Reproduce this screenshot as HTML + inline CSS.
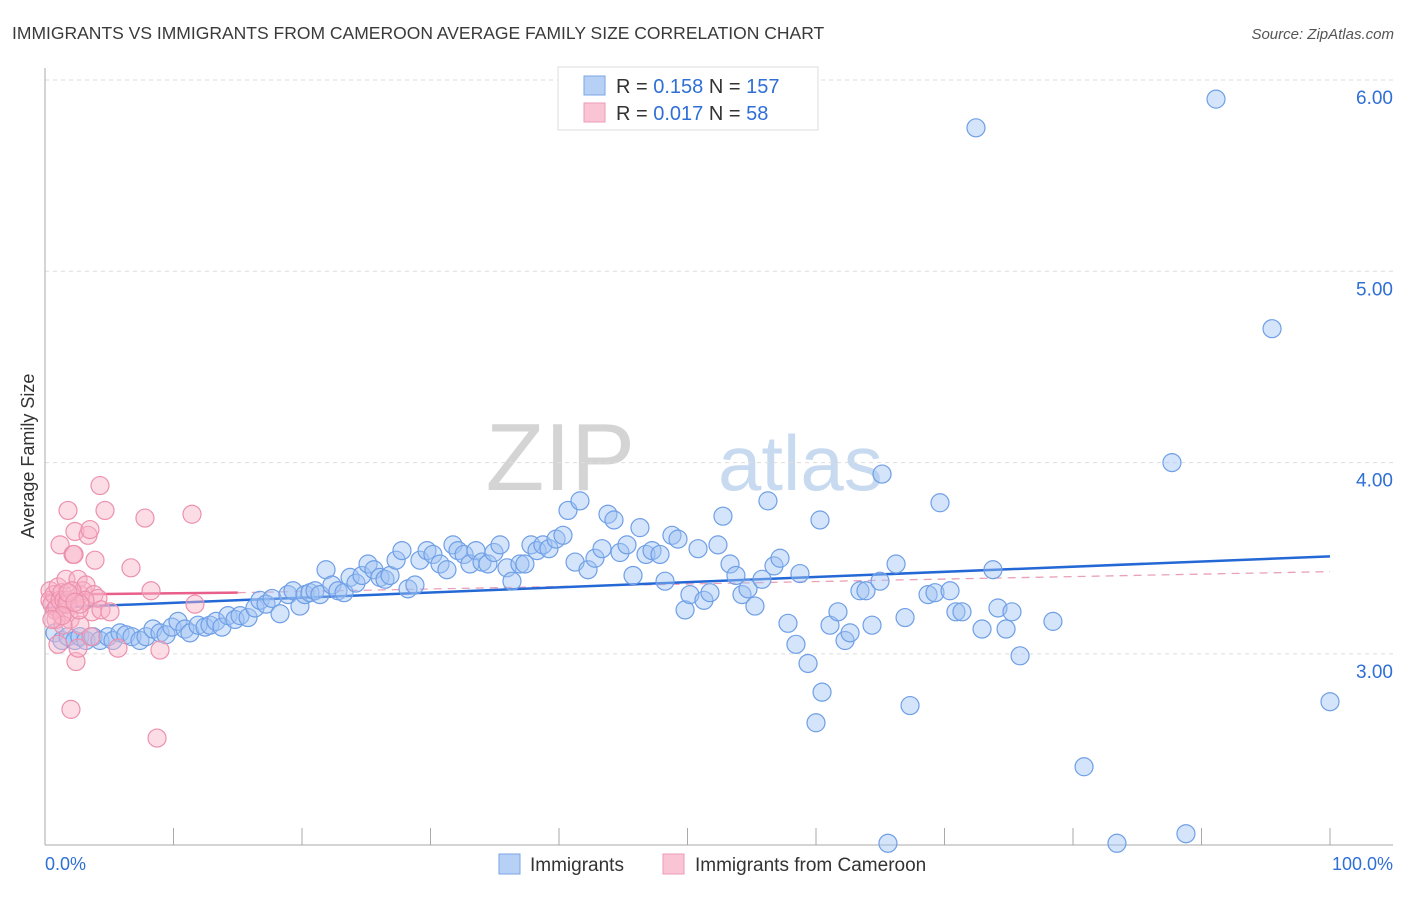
<!DOCTYPE html>
<html><head><meta charset="utf-8"><style>
body{margin:0;background:#fff;font-family:"Liberation Sans",sans-serif;}
svg text{font-family:"Liberation Sans",sans-serif;}
</style></head><body>
<svg id="chart" width="1406" height="892" xmlns="http://www.w3.org/2000/svg">
<text x="12" y="39" font-size="17.5" fill="#3a3a3a">IMMIGRANTS VS IMMIGRANTS FROM CAMEROON AVERAGE FAMILY SIZE CORRELATION CHART</text>
<text x="1394" y="39" font-size="15" fill="#555" text-anchor="end" font-style="italic">Source: ZipAtlas.com</text>
<g>
<text x="635" y="490" font-size="96" fill="#d4d4d4" text-anchor="end" font-family="Liberation Serif, serif">ZIP</text>
<text x="718" y="490" font-size="78" fill="#c8daf0">atlas</text>
</g>
<g id="grid"></g>
<g id="axes"></g>
<g id="trend"></g>
<g id="pts"></g>
<text transform="translate(34,456) rotate(-90)" font-size="18" fill="#333" text-anchor="middle">Average Family Size</text>
<g>
<rect x="558" y="67" width="260" height="63" fill="#fff" stroke="#ddd"/>
<rect x="584" y="76" width="21" height="19" fill="#b7d0f5" stroke="#7ba6e6"/>
<rect x="584" y="103" width="21" height="19" fill="#f9c5d5" stroke="#ee9ab4"/>
<text x="616" y="93" font-size="20" fill="#333">R = <tspan fill="#2f6fd6">0.158</tspan>   N = <tspan fill="#2f6fd6">157</tspan></text>
<text x="616" y="120" font-size="20" fill="#333">R = <tspan fill="#2f6fd6">0.017</tspan>   N = <tspan fill="#2f6fd6"> 58</tspan></text>
</g>
<g>
<rect x="499" y="854" width="21" height="20" fill="#b7d0f5" stroke="#7ba6e6"/>
<text x="530" y="871" font-size="19" fill="#333">Immigrants</text>
<rect x="663" y="854" width="21" height="20" fill="#f9c5d5" stroke="#ee9ab4"/>
<text x="695" y="871" font-size="19" fill="#333">Immigrants from Cameroon</text>
</g>
<text x="45" y="870" font-size="18" fill="#2f6fd6">0.0%</text>
<text x="1393" y="870" font-size="18" fill="#2f6fd6" text-anchor="end">100.0%</text>
</svg>
<script>
const yTicks=[3,4,5,6];
const yTickLabels=["3.00","4.00","5.00","6.00"];
const xTicks=[0,10,20,30,40,50,60,70,80,90,100];
const blueX=[0.78,1.32,1.79,2.33,2.72,3.19,3.74,4.28,4.9,5.29,5.84,6.3,6.77,7.39,7.86,8.4,8.95,9.42,9.88,10.35,10.89,11.28,11.91,12.45,12.84,13.31,13.77,14.24,14.79,15.18,15.8,16.34,16.73,17.2,17.67,18.29,18.91,19.3,19.84,20.23,20.62,21.01,21.4,21.87,22.33,22.8,23.27,23.74,24.2,24.67,25.14,25.6,26.07,26.46,26.85,27.32,27.78,28.25,28.79,29.18,29.73,30.19,30.74,31.28,31.75,32.14,32.61,33.07,33.54,34.01,34.47,34.94,35.41,35.95,36.34,36.96,37.35,37.82,38.29,38.75,39.22,39.77,40.31,40.7,41.25,41.63,42.26,42.8,43.35,43.81,44.28,44.75,45.29,45.76,46.3,46.77,47.24,47.86,48.25,48.79,49.26,49.81,50.19,50.82,51.28,51.75,52.37,52.76,53.31,53.77,54.24,54.71,55.25,55.8,56.26,56.73,57.2,57.82,58.44,58.75,59.38,60,60.47,60.31,61.09,61.71,62.26,62.65,63.42,63.89,64.36,64.98,65.14,66.23,66.93,67.32,68.72,69.26,69.65,70.43,70.89,71.36,72.45,72.92,73.77,74.16,74.79,75.25,75.88,78.44,80.86,87.7,91.13,95.49,100,65.6,83.42,88.79];
const blueY=[3.11,3.07,3.09,3.07,3.09,3.07,3.09,3.07,3.09,3.07,3.11,3.1,3.09,3.07,3.09,3.13,3.11,3.1,3.14,3.17,3.13,3.11,3.15,3.14,3.15,3.17,3.14,3.2,3.18,3.2,3.19,3.24,3.28,3.26,3.29,3.21,3.31,3.33,3.25,3.31,3.32,3.33,3.31,3.44,3.36,3.33,3.32,3.4,3.37,3.41,3.47,3.44,3.4,3.39,3.41,3.49,3.54,3.34,3.36,3.49,3.54,3.52,3.47,3.44,3.57,3.54,3.52,3.47,3.54,3.48,3.47,3.53,3.57,3.45,3.38,3.47,3.47,3.57,3.54,3.57,3.55,3.6,3.62,3.75,3.48,3.8,3.44,3.5,3.55,3.73,3.7,3.53,3.57,3.41,3.66,3.52,3.54,3.52,3.38,3.62,3.6,3.23,3.31,3.55,3.28,3.32,3.57,3.72,3.47,3.41,3.31,3.34,3.25,3.39,3.8,3.46,3.5,3.16,3.05,3.42,2.95,2.64,2.8,3.7,3.15,3.22,3.07,3.11,3.33,3.33,3.15,3.38,3.94,3.47,3.19,2.73,3.31,3.32,3.79,3.33,3.22,3.22,5.75,3.13,3.44,3.24,3.13,3.22,2.99,3.17,2.41,4.0,5.9,4.7,2.75,2.01,2.01,2.06];
const pinkX=[0.39,0.39,0.54,0.7,0.78,0.93,1.01,1.17,1.17,1.32,1.48,1.56,1.63,1.79,1.79,1.95,2.02,2.18,2.26,2.33,2.41,2.57,2.57,2.72,2.72,2.96,3.19,3.35,3.5,3.66,3.81,3.89,4.12,4.28,4.36,4.67,5.06,5.68,6.69,7.78,8.25,8.72,8.95,11.44,11.67,0.86,1.4,1.71,2.1,2.65,3.11,1.01,3.58,2.72,1.32,0.54,1.79,2.33];
const pinkY=[3.33,3.28,3.26,3.31,3.23,3.24,3.35,3.57,3.28,3.32,3.28,3.22,3.39,3.28,3.75,3.18,2.71,3.52,3.52,3.64,2.96,3.03,3.39,3.31,3.15,3.33,3.36,3.62,3.65,3.22,3.31,3.49,3.29,3.88,3.23,3.75,3.22,3.03,3.45,3.71,3.33,2.56,3.02,3.73,3.26,3.18,3.15,3.26,3.33,3.23,3.28,3.05,3.09,3.26,3.2,3.18,3.32,3.27];
const blueTrendX=[0,100];
const blueTrendY=[3.24,3.51];
const pinkTrendX=[0,15];
const pinkTrendY=[3.31,3.32];
const pinkDashX=[15,100];
const pinkDashY=[3.32,3.43];

const NS="http://www.w3.org/2000/svg";
const xs=p=>45+p*12.85;
const ys=v=>80+(6-v)*191.3;
function mk(tag,attrs,parent){const e=document.createElementNS(NS,tag);for(const k in attrs)e.setAttribute(k,attrs[k]);parent.appendChild(e);return e;}
const grid=document.getElementById('grid'),axes=document.getElementById('axes');
yTicks.forEach((t,i)=>{
 const l=mk('line',{x1:45,x2:1393,y1:ys(t),y2:ys(t),stroke:'#ddd','stroke-dasharray':'4,4'},grid);
 
 
 const tx=mk('text',{x:1393,y:ys(t)+24,'font-size':19,fill:'#2f6fd6','text-anchor':'end'},grid);
 tx.textContent=yTickLabels[i];
 
 
});
const ya=mk('line',{x1:45,x2:45,y1:68,y2:845,stroke:'#aaa'},axes);


const xa=mk('line',{x1:45,x2:1393,y1:845,y2:845,stroke:'#aaa'},axes);


xTicks.forEach(t=>{
 const l=mk('line',{x1:xs(t),x2:xs(t),y1:828,y2:845,stroke:'#aaa'},axes);
 
 
});
const pts=document.getElementById('pts');
blueX.forEach((x,i)=>{
 const c=mk('circle',{cx:xs(x),cy:ys(blueY[i]),r:9,fill:'rgba(160,195,245,0.45)',stroke:'#6f9fe6','stroke-width':1.2},pts);
 
 
});
pinkX.forEach((x,i)=>{
 const c=mk('circle',{cx:xs(x),cy:ys(pinkY[i]),r:9,fill:'rgba(248,180,200,0.45)',stroke:'#ec91ae','stroke-width':1.2},pts);
 
 
});
const tr=document.getElementById('trend');
const d=mk('line',{x1:xs(pinkDashX[0]),y1:ys(pinkDashY[0]),x2:xs(pinkDashX[1]),y2:ys(pinkDashY[1]),stroke:'#eaa0b8','stroke-width':1.3,'stroke-dasharray':'8,6'},tr);


const b=mk('line',{x1:xs(blueTrendX[0]),y1:ys(blueTrendY[0]),x2:xs(blueTrendX[1]),y2:ys(blueTrendY[1]),stroke:'#2468d6','stroke-width':2.5},tr);


const p=mk('line',{x1:xs(pinkTrendX[0]),y1:ys(pinkTrendY[0]),x2:xs(pinkTrendX[1]),y2:ys(pinkTrendY[1]),stroke:'#e8608a','stroke-width':2.5},tr);


</script>
</body></html>
